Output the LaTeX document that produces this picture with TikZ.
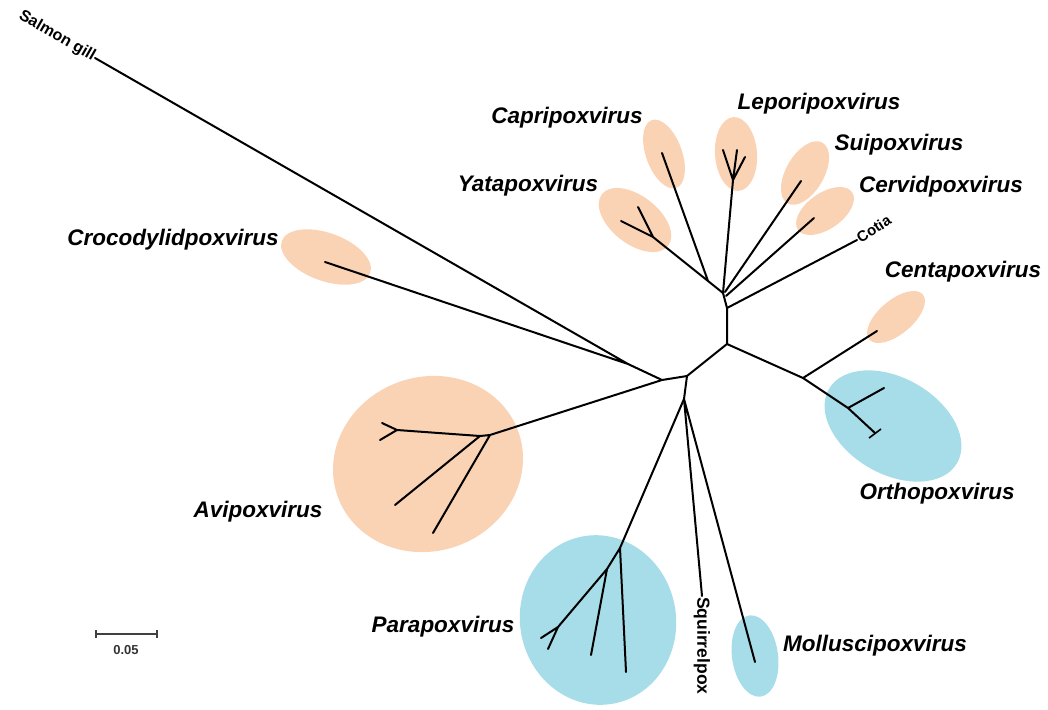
\documentclass[tikz,border=0pt]{standalone}
\usepackage{fontspec}
\setmainfont{Liberation Sans}
\definecolor{peach}{RGB}{250,211,181}
\definecolor{cyanbl}{RGB}{166,221,232}
\begin{document}
\begin{tikzpicture}[x=1pt,y=-1pt,
  br/.style={line width=2pt,line cap=round,line join=round},
  genus/.style={font=\fontsize{22.5}{26}\selectfont\bfseries\itshape},
  small/.style={font=\fontsize{16}{18}\selectfont\bfseries,inner sep=1pt}]
\useasboundingbox (0,0) rectangle (1048,709);
% clade ellipses
\fill[peach,rotate around={-20:(326,257)}] (326,257) ellipse [x radius=47pt,y radius=24pt];
\fill[peach,rotate around={-38:(635,220)}] (635,220) ellipse [x radius=42pt,y radius=24pt];
\fill[peach,rotate around={20:(664,154)}] (664,154) ellipse [x radius=18pt,y radius=36pt];
\fill[peach,rotate around={4:(736,154)}] (736,154) ellipse [x radius=21pt,y radius=37pt];
\fill[peach,rotate around={-30:(805,173)}] (805,173) ellipse [x radius=19pt,y radius=35pt];
\fill[peach,rotate around={35:(825,211)}] (825,211) ellipse [x radius=33pt,y radius=18pt];
\fill[peach,rotate around={40:(896,317)}] (896,317) ellipse [x radius=35pt,y radius=17pt];
\fill[cyanbl,rotate around={-30:(893,426)}] (893,426) ellipse [x radius=74pt,y radius=48pt];
\fill[peach,rotate around={20:(428,464)}] (428,464) ellipse [x radius=96pt,y radius=87pt];
\fill[cyanbl,rotate around={10:(598,620)}] (598,620) ellipse [x radius=78pt,y radius=85pt];
\fill[cyanbl,rotate around={8:(755,656)}] (755,656) ellipse [x radius=23pt,y radius=41pt];
% tree coordinates
\coordinate (A) at (662,380);
\coordinate (X) at (628,364);
\coordinate (salmon) at (95,58);
\coordinate (croc) at (325,262);
\coordinate (B) at (687,376);
\coordinate (C) at (727,344);
\coordinate (D) at (727,308);
\coordinate (H) at (723,293);
\coordinate (cotia) at (857,240);
\coordinate (E) at (803,378);
\coordinate (centa) at (877,331);
\coordinate (F) at (848,408);
\coordinate (orA) at (884,388);
\coordinate (orB) at (875,433);
\coordinate (orB1) at (869,438);
\coordinate (orB2) at (881,429);
\coordinate (Y) at (653,237);
\coordinate (Y1) at (621,221);
\coordinate (Y2) at (638,207);
\coordinate (Cj) at (708,281);
\coordinate (capri) at (662,153);
\coordinate (L) at (733,180);
\coordinate (L1) at (723,150);
\coordinate (L2) at (737,150);
\coordinate (L3) at (745,157);
\coordinate (Hs) at (725,292);
\coordinate (sui) at (801,181);
\coordinate (Hc) at (726,296);
\coordinate (cervid) at (814,218);
\coordinate (P) at (490,435);
\coordinate (Pp) at (480,436);
\coordinate (Pu) at (397,430);
\coordinate (Pu1) at (382,423);
\coordinate (Pu2) at (380,440);
\coordinate (Pl1) at (395,505);
\coordinate (Pl2) at (433,533);
\coordinate (G) at (684,399);
\coordinate (Q) at (620,548);
\coordinate (Q1) at (626,672);
\coordinate (Q2) at (607,569);
\coordinate (Q21) at (591,655);
\coordinate (Q3) at (558,627);
\coordinate (Q31) at (541,638);
\coordinate (Q32) at (548,649);
\coordinate (squir) at (702,596);
\coordinate (mollu) at (755,662);
% branches
\draw[br] (salmon) -- (X) (croc) -- (X) -- (A) -- (B) -- (C) -- (D) -- (H);
\draw[br] (D) -- (cotia);
\draw[br] (C) -- (E) -- (centa) (E) -- (F) -- (orA) (F) -- (orB);
\draw[line width=1.6pt] (orB1) -- (orB2);
\draw[br] (H) -- (Cj) -- (Y) -- (Y1) (Y) -- (Y2) (Cj) -- (capri);
\draw[br] (H) -- (L) -- (L1) (L) -- (L2) (L) -- (L3);
\draw[br] (Hs) -- (sui) (Hc) -- (cervid);
\draw[br] (A) -- (P) -- (Pp) -- (Pu) -- (Pu1) (Pu) -- (Pu2) (Pp) -- (Pl1) (P) -- (Pl2);
\draw[br] (B) -- (G) -- (Q) -- (Q1) (Q) -- (Q2) -- (Q21) (Q2) -- (Q3) -- (Q31) (Q3) -- (Q32);
\draw[br] (G) -- (squir) (G) -- (mollu);
% small labels
\node[small,anchor=east,rotate=-30] (lsalmon) at (salmon) {Salmon gill};
\node[small,font=\fontsize{15}{17}\selectfont\bfseries,anchor=west,rotate=33] (lcotia) at (cotia) {Cotia};
\node[small,font=\fontsize{17.5}{19}\selectfont\bfseries,anchor=west,rotate=-90] (lsquir) at (squir) {Squirrelpox};
% genus labels
\node[genus] (lcapri) at (567,118) {Capripoxvirus};
\node[genus] (llepo) at (819,104) {Leporipoxvirus};
\node[genus] (lsui) at (899,145) {Suipoxvirus};
\node[genus] (lcervid) at (941,187) {Cervidpoxvirus};
\node[genus] (lyata) at (528,186) {Yatapoxvirus};
\node[genus] (lcroc) at (173,240) {Crocodylidpoxvirus};
\node[genus] (lcenta) at (963,272) {Centapoxvirus};
\node[genus] (lortho) at (937,494) {Orthopoxvirus};
\node[genus] (lavi) at (258,512) {Avipoxvirus};
\node[genus] (lpara) at (443,627) {Parapoxvirus};
\node[genus] (lmollu) at (875,646) {Molluscipoxvirus};
% scale bar
\coordinate (s0) at (96,634);
\coordinate (s1) at (157,634);
\draw[line width=1.2pt,black!75] (s0) -- (s1);
\draw[line width=1.2pt,black!75] ([yshift=-4pt]s0) -- ([yshift=4pt]s0) ([yshift=-4pt]s1) -- ([yshift=4pt]s1);
\node[font=\fontsize{13}{15}\selectfont\bfseries,text=black!80] (lscale) at (126,650) {0.05};
\end{tikzpicture}
\end{document}
